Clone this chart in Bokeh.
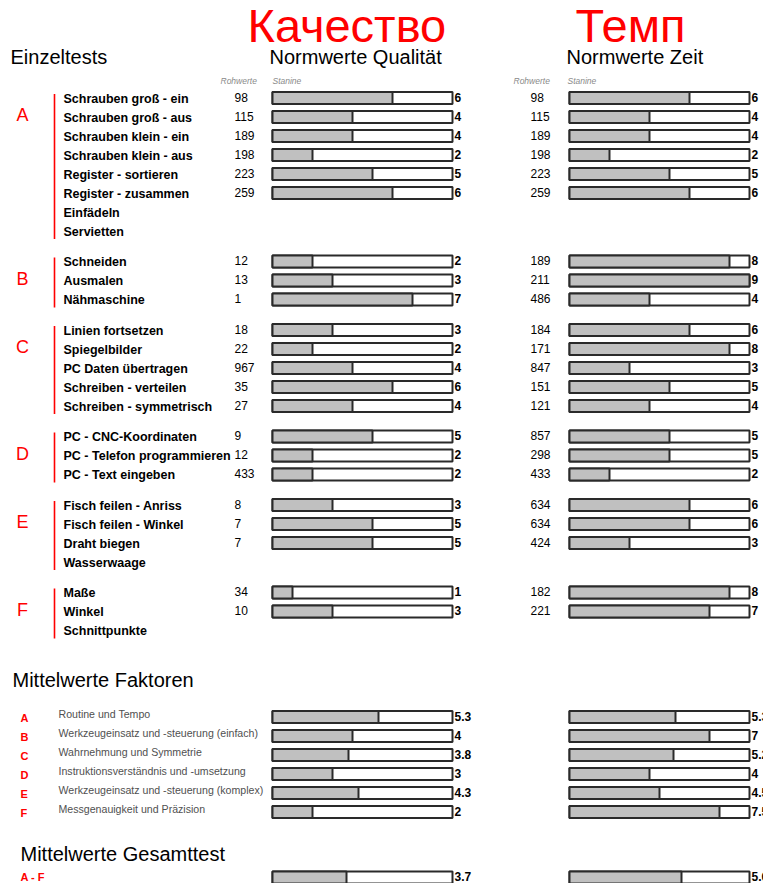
from bokeh.plotting import figure
from bokeh.models import Range1d, ColumnDataSource
from bokeh.core.properties import value
from bokeh.embed import file_html
from bokeh.resources import INLINE

# ---------------- data ----------------
groups = ["A", "B", "C", "D", "E", "F"]
test_group = ["A", "A", "A", "A", "A", "A", "A", "A",
              "B", "B", "B",
              "C", "C", "C", "C", "C",
              "D", "D", "D",
              "E", "E", "E", "E",
              "F", "F", "F"]
test_names = ["Schrauben groß - ein", "Schrauben groß - aus", "Schrauben klein - ein",
              "Schrauben klein - aus", "Register - sortieren", "Register - zusammen",
              "Einfädeln", "Servietten",
              "Schneiden", "Ausmalen", "Nähmaschine",
              "Linien fortsetzen", "Spiegelbilder", "PC Daten übertragen",
              "Schreiben - verteilen", "Schreiben - symmetrisch",
              "PC - CNC-Koordinaten", "PC - Telefon programmieren", "PC - Text eingeben",
              "Fisch feilen - Anriss", "Fisch feilen - Winkel", "Draht biegen", "Wasserwaage",
              "Maße", "Winkel", "Schnittpunkte"]
q_raw = [98, 115, 189, 198, 223, 259, None, None,
         12, 13, 1,
         18, 22, 967, 35, 27,
         9, 12, 433,
         8, 7, 7, None,
         34, 10, None]
q_stanine = [6, 4, 4, 2, 5, 6, None, None,
             2, 3, 7,
             3, 2, 4, 6, 4,
             5, 2, 2,
             3, 5, 5, None,
             1, 3, None]
z_raw = [98, 115, 189, 198, 223, 259, None, None,
         189, 211, 486,
         184, 171, 847, 151, 121,
         857, 298, 433,
         634, 634, 424, None,
         182, 221, None]
z_stanine = [6, 4, 4, 2, 5, 6, None, None,
             8, 9, 4,
             6, 8, 3, 5, 4,
             5, 5, 2,
             6, 6, 3, None,
             8, 7, None]

factor_letters = ["A", "B", "C", "D", "E", "F"]
factor_names = ["Routine und Tempo",
                "Werkzeugeinsatz und -steuerung (einfach)",
                "Wahrnehmung und Symmetrie",
                "Instruktionsverständnis und -umsetzung",
                "Werkzeugeinsatz und -steuerung (komplex)",
                "Messgenauigkeit und Präzision"]
factor_q = [5.3, 4, 3.8, 3, 4.3, 2]
factor_z = [5.3, 7, 5.2, 4, 4.5, 7.5]

total_letters = ["A - F"]
total_q = [3.7]
total_z = [5.6]

stanine_max = 9

# ---------------- layout ----------------
FONT = "Liberation Sans"
RED = "#ff0000"
GRAY_FILL = "#c0c0c0"
EDGE = "#2a2a2a"
W, H = 763, 883

p = figure(width=W, height=H, x_range=Range1d(0, W), y_range=Range1d(H, 0),
           output_backend="svg", toolbar_location=None,
           x_axis_type=None, y_axis_type=None, min_border=0)
p.outline_line_color = None
p.background_fill_color = "white"
unit = 20.0
q_origin, z_origin = 272, 569
p.extra_x_ranges = {
    "q": Range1d((0 - q_origin) / unit, (W - q_origin) / unit),
    "z": Range1d((0 - z_origin) / unit, (W - z_origin) / unit),
}


def txt(xs, ys, texts, size, color="black", style="normal", align="left",
        baseline="middle", font=FONT):
    src = ColumnDataSource(dict(x=list(xs), y=list(ys), t=list(texts)))
    p.text("x", "y", text="t", source=src, text_font=value(font),
           text_font_size=value(size), text_color=color, text_font_style=style,
           text_align=align, text_baseline=baseline)


def bars(ys, vals, rng, half=6.0):
    yy = [y for y, v in zip(ys, vals) if v is not None]
    vv = [v for v in vals if v is not None]
    src = ColumnDataSource(dict(top=[y - half for y in yy], bottom=[y + half for y in yy],
                                v=vv, zero=[0] * len(vv), full=[stanine_max] * len(vv)))
    p.quad(left="zero", right="full", top="top", bottom="bottom", source=src,
           fill_color="white", line_color=EDGE, line_width=2, x_range_name=rng)
    p.quad(left="zero", right="v", top="top", bottom="bottom", source=src,
           fill_color=GRAY_FILL, line_color=EDGE, line_width=2, x_range_name=rng)


def fmt(v):
    return f"{v:g}"


# titles
txt([247], [25], ["Качество"], "47px", color=RED)
txt([575], [25], ["Темп"], "47px", color=RED)
txt([10, 269, 566], [56.5, 56.5, 56.5], ["Einzeltests", "Normwerte Qualität", "Normwerte Zeit"],
    "20px")
txt([220, 513], [80, 80], ["Rohwerte", "Rohwerte"], "8.5px", color="#8a8a8a", style="italic")
txt([272, 567], [80, 80], ["Stanine", "Stanine"], "8.5px", color="#8a8a8a", style="italic")

# Einzeltests rows
gidx = [groups.index(g) for g in test_group]
row_y = [97.5 + 19 * i + 11.5 * g for i, g in enumerate(gidx)]

txt([63] * len(test_names), [y + 0.5 for y in row_y], test_names, "12.5px", style="bold")

for raw, xpos in ((q_raw, 234), (z_raw, 530)):
    ys = [y - 1 for y, r in zip(row_y, raw) if r is not None]
    ts = [str(r) for r in raw if r is not None]
    txt([xpos] * len(ts), ys, ts, "12px")

bars(row_y, q_stanine, "q")
bars(row_y, z_stanine, "z")
for st, xpos in ((q_stanine, 454), (z_stanine, 751)):
    ys = [y - 1 for y, s in zip(row_y, st) if s is not None]
    ts = [fmt(s) for s in st if s is not None]
    txt([xpos] * len(ts), ys, ts, "12px", style="bold")

# group markers
seg_y0, seg_y1, let_y = [], [], []
for g in groups:
    ys = [y for y, gg in zip(row_y, test_group) if gg == g]
    seg_y0.append(min(ys) - 4)
    seg_y1.append(max(ys) + 8)
    let_y.append(min(ys) + 17)
p.segment(x0=[54] * len(groups), x1=[54] * len(groups), y0=seg_y0, y1=seg_y1,
          line_color=RED, line_width=1.6)
txt([22] * len(groups), let_y, groups, "18px", color=RED, align="center")

# Mittelwerte Faktoren
txt([12], [679.5], ["Mittelwerte Faktoren"], "20px")
f_y = [716.5 + 19 * i for i in range(len(factor_names))]
txt([20] * len(f_y), [y + 0.5 for y in f_y], factor_letters, "11px", color=RED, style="bold")
txt([58] * len(f_y), [y - 3.5 for y in f_y], factor_names, "10.6px", color="#505050")
bars(f_y, factor_q, "q")
bars(f_y, factor_z, "z")
txt([454] * len(f_y), [y - 1 for y in f_y], [fmt(v) for v in factor_q], "12px", style="bold")
txt([751] * len(f_y), [y - 1 for y in f_y], [fmt(v) for v in factor_z], "12px", style="bold")

# Mittelwerte Gesamttest
txt([20], [853], ["Mittelwerte Gesamttest"], "20px")
t_y = [877]
txt([20], [876.5], total_letters, "11px", color=RED, style="bold")
bars(t_y, total_q, "q")
bars(t_y, total_z, "z")
txt([454], [876], [fmt(v) for v in total_q], "12px", style="bold")
txt([751], [876], [fmt(v) for v in total_z], "12px", style="bold")

open("out.html", "w").write(file_html(p, INLINE))
